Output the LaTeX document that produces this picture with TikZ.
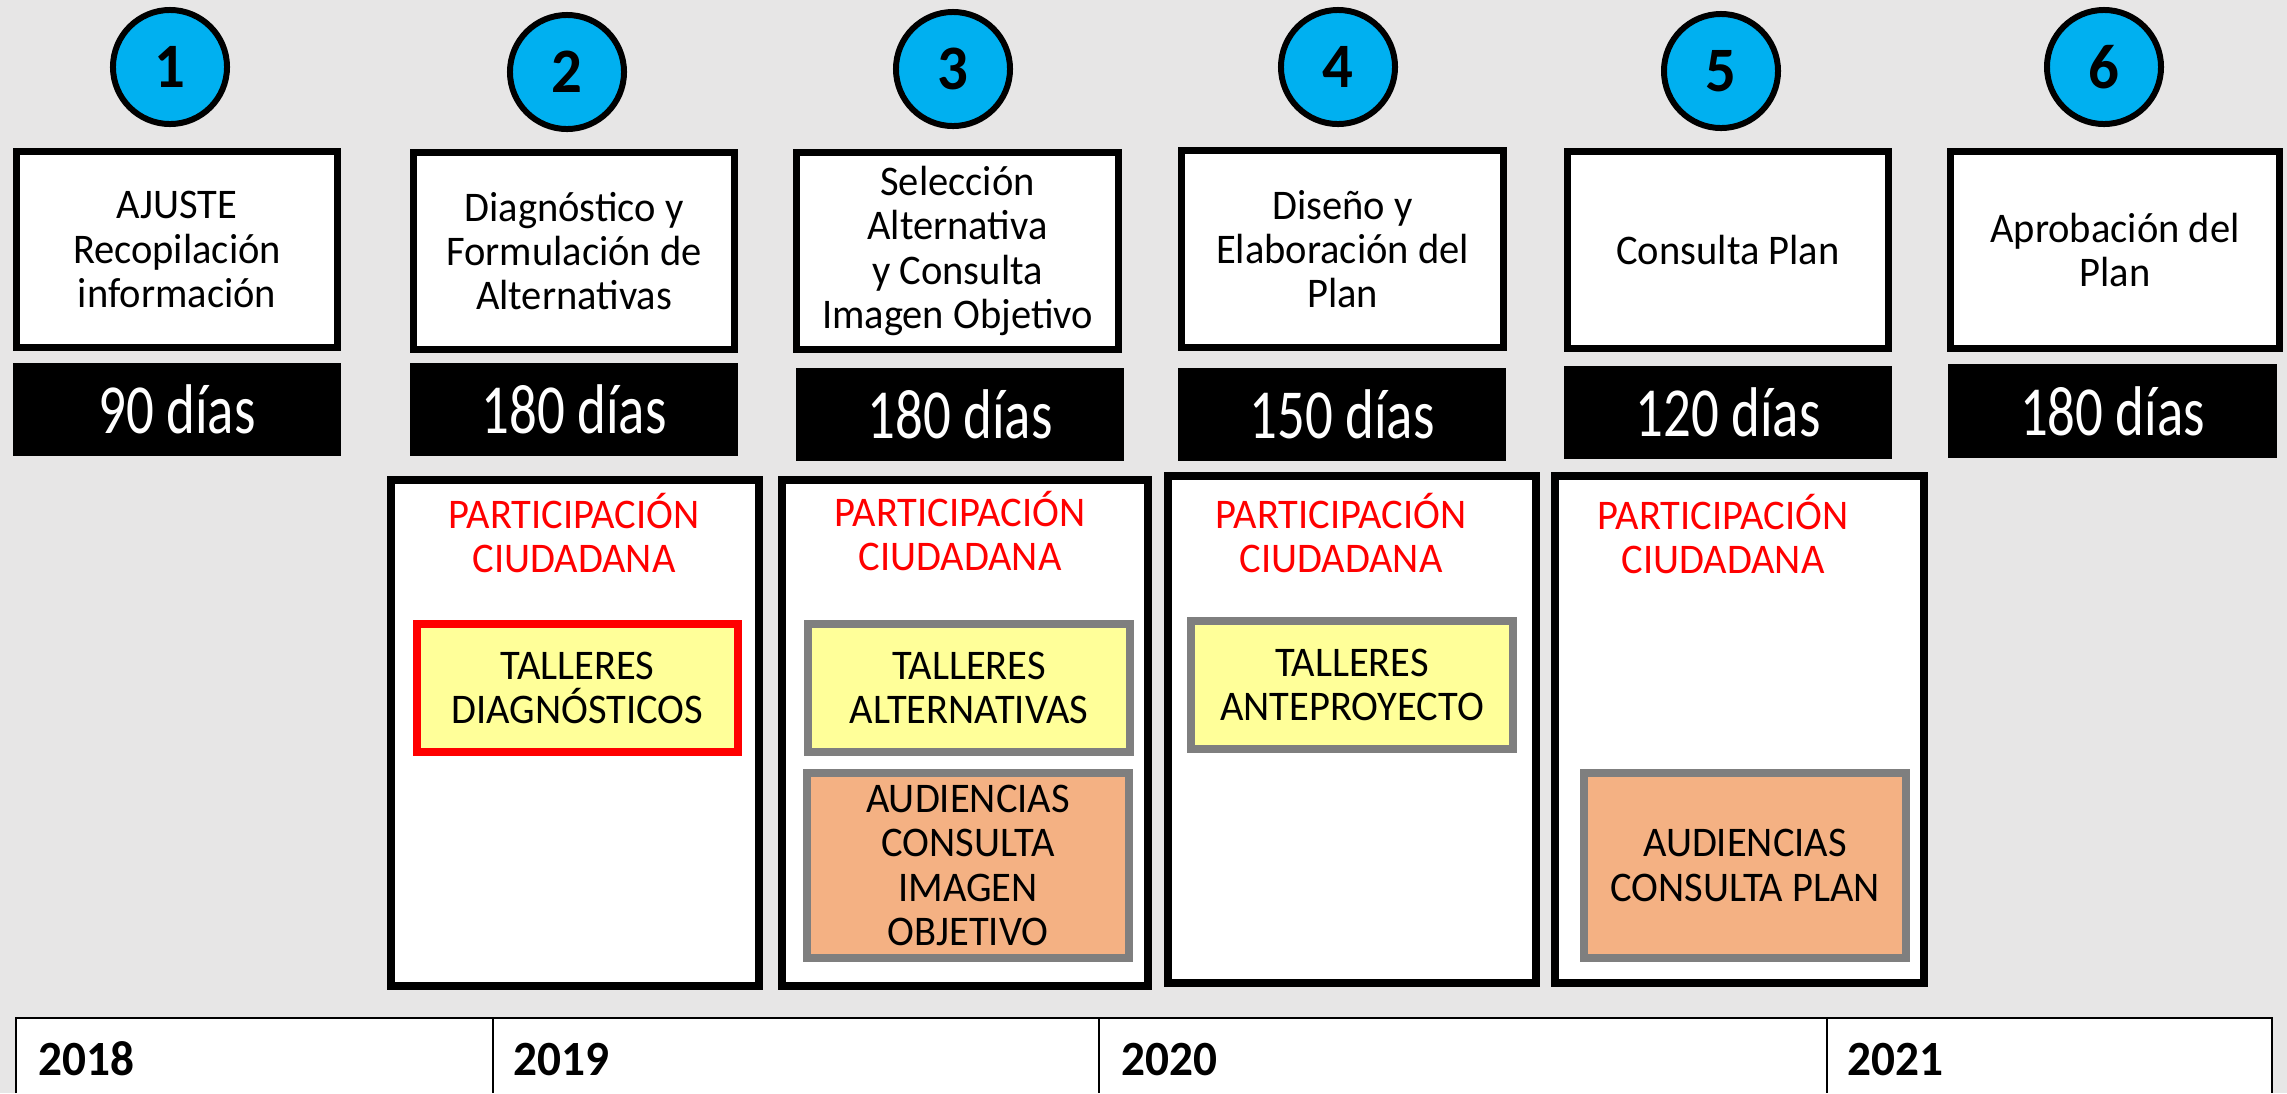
\documentclass[tikz,border=0pt]{standalone}
\usepackage{fontspec}
\setmainfont{Carlito}[FakeStretch=0.96]
\newfontfamily\plazofont{Carlito}[FakeStretch=0.78]
\definecolor{fondo}{HTML}{E7E6E6}
\definecolor{celeste}{HTML}{00B0F0}
\definecolor{amarillo}{HTML}{FFFF99}
\definecolor{naranja}{HTML}{F4B183}
\definecolor{gris}{HTML}{7F7F7F}
\definecolor{rojo}{HTML}{FF0000}
\tikzset{
  etapa/.style={circle, draw=black, line width=1.7pt, fill=celeste, minimum size=1.14cm, inner sep=0pt,
    font=\fontsize{18}{18}\selectfont\bfseries},
  titulo/.style={draw=black, line width=2pt, fill=white, minimum width=3.21cm, minimum height=1.96cm,
    align=center, inner sep=0pt, font=\fontsize{12}{12.6}\selectfont},
  plazo/.style={fill=black, text=white, minimum width=3.28cm, minimum height=0.93cm, inner sep=0pt,
    font=\plazofont\fontsize{20}{20}\selectfont},
  marco/.style={draw=black, line width=2.3pt, fill=white, minimum width=3.68cm, minimum height=5.06cm},
  partic/.style={text=rojo, align=center, font=\fontsize{12}{12.3}\selectfont},
  taller/.style={draw=gris, line width=2.3pt, fill=amarillo, minimum width=3.21cm, minimum height=1.28cm,
    align=center, inner sep=0pt, font=\fontsize{12}{12.6}\selectfont},
  audiencia/.style={taller, fill=naranja, minimum height=1.85cm},
  anio/.style={anchor=base west, inner sep=0pt, font=\fontsize{14}{14}\selectfont\bfseries}
}
\begin{document}
\begin{tikzpicture}[x=0.01cm,y=-0.01cm]
  \useasboundingbox (0,0) rectangle (2287,1093);
  \fill[fondo] (0,0) rectangle (2287,1093);

  % etapas
  \foreach \n/\x/\y in {1/170/67,2/567/72,3/953/69,4/1338/67,5/1721/71,6/2104/67} {
    \node[etapa] (etapa\n) at (\x,\y) {\n};
  }

  \foreach \n/\x/\y/\t in {1/177/249.5/{AJUSTE\\Recopilación\\información},
      2/574/251/{Diagnóstico y\\Formulación de\\Alternativas},
      3/957.5/251/{Selección\\Alternativa\\y Consulta\\Imagen Objetivo},
      4/1342.5/249/{Diseño y\\Elaboración del\\Plan},
      5/1728/250/{Consulta Plan}} {
    \node[titulo] (tit\n) at (\x,\y) {\t};
  }
  \node[titulo, minimum width=3.28cm] (tit6) at (2115,250) {Aprobación del\\Plan};

  \foreach \n/\x/\y/\d in {1/177/409.5/90,2/574/409.5/180,3/960/414.5/180,
      4/1342/414.5/150,5/1728/412.5/120,6/2112.5/411/180} {
    \node[plazo] (dias\n) at (\x,\y) {\d{} días};
  }

  % participacion ciudadana
  \node[marco] (part2) at (575,733) {};
  \node[marco, minimum width=3.66cm] (part3) at (965,733) {};
  \node[marco] (part4) at (1352,729.5) {};
  \node[marco] (part5) at (1739.5,729.5) {};
  \foreach \n/\x/\y in {2/574/533,3/960/531,4/1341/533,5/1723/534} {
    \node[partic] (ptxt\n) at (\x,\y) {PARTICIPACIÓN\\CIUDADANA};
  }

  \node[taller, draw=rojo] (taller2) at (577.5,688) {TALLERES\\DIAGNÓSTICOS};
  \node[taller] (taller3) at (969,688) {TALLERES\\ALTERNATIVAS};
  \node[taller] (taller4) at (1352,685) {TALLERES\\ANTEPROYECTO};
  \node[audiencia] (aud3) at (968,865.5) {AUDIENCIAS\\CONSULTA\\IMAGEN\\OBJETIVO};
  \node[audiencia] (aud5) at (1745,865.5) {AUDIENCIAS\\CONSULTA PLAN};

  % linea de tiempo
  \fill[white] (16,1018) rectangle (2272,1093);
  \draw[line width=0.7pt] (16,1093) -- (16,1018) -- (2272,1018) -- (2272,1093);
  \foreach \x in {493,1099,1827} {
    \draw[line width=0.7pt] (\x,1018) -- (\x,1093);
  }
  \node[anio] (a2018) at (38,1075) {2018};
  \node[anio] (a2019) at (513,1075) {2019};
  \node[anio] (a2020) at (1121,1075) {2020};
  \node[anio] (a2021) at (1847,1075) {2021};
\end{tikzpicture}
\end{document}
